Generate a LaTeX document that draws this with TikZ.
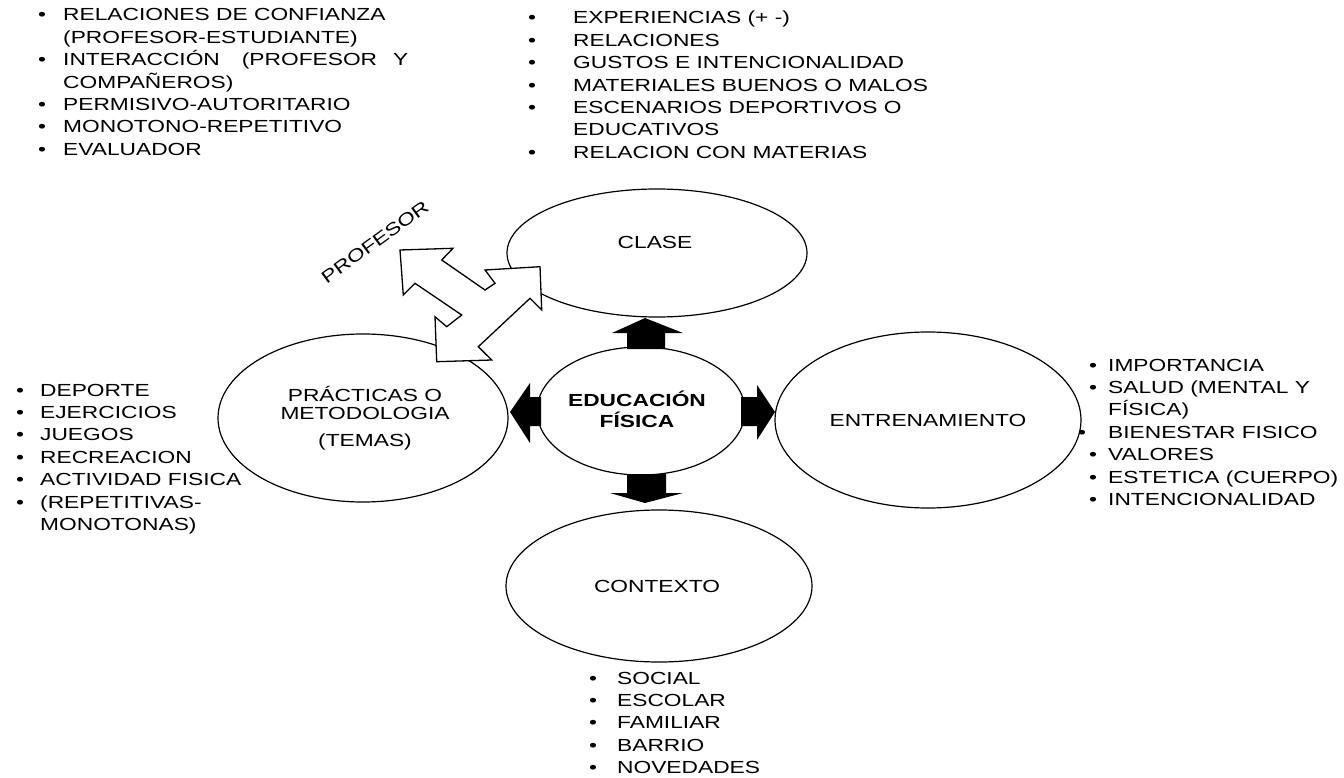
\documentclass[tikz,border=0pt]{standalone}
\usepackage{fontspec}
\setmainfont{Liberation Sans}[FakeStretch=1.3]
\usetikzlibrary{shapes.geometric}
\newcommand{\bl}[1]{\makebox[#1][l]{\textbullet}}
\newcommand{\lsz}{\fontsize{17.5}{22.4}\selectfont}
\begin{document}
\begin{tikzpicture}[x=1pt,y=-1pt,
  ell/.style={draw, ellipse, line width=1.2pt, fill=white, inner sep=0pt},
  lbl/.style={font=\lsz, inner sep=0pt, anchor=base},
  listnode/.style={font=\lsz, inner sep=0pt, anchor=base west, align=left},
  blackarrow/.style={fill=black},
  whitearrow/.style={draw, fill=white, line width=1.3pt, line join=miter}]
\useasboundingbox (0,0) rectangle (1344,778);

% ellipses
\node[ell, minimum width=300pt, minimum height=128pt] (clase) at (657,253) {};
\node[ell, minimum width=208pt, minimum height=128pt] (ef) at (641,411) {};
\node[ell, minimum width=290pt, minimum height=168pt] (prac) at (363,418) {};
\node[ell, minimum width=306pt, minimum height=176pt] (entr) at (928,420) {};
\node[ell, minimum width=306pt, minimum height=152pt] (cont) at (659,586) {};

% labels
\node[lbl] (tclase) at (655,248) {CLASE};
\node[lbl] (tentr) at (928,426) {ENTRENAMIENTO};
\node[lbl] (tcont) at (657,592) {CONTEXTO};
\node[lbl] (tprac1) at (365,401) {PRÁCTICAS O};
\node[lbl] (tprac2) at (365,419) {METODOLOGIA};
\node[lbl] (tprac3) at (365,446) {(TEMAS)};
\node[lbl, font=\lsz\bfseries] (tef1) at (637,406) {EDUCACIÓN};
\node[lbl, font=\lsz\bfseries] (tef2) at (637,427) {FÍSICA};

% black arrows
\fill[blackarrow] (627,349) -- (627,333) -- (612,333) -- (645,318) -- (683,333) -- (665,333) -- (665,349) -- cycle;
\fill[blackarrow] (627,474) -- (627,493) -- (610,493) -- (645,503) -- (683,493) -- (666,493) -- (666,474) -- cycle;
\fill[blackarrow] (541,397) -- (530,397) -- (530,383) -- (510,412) -- (530,443) -- (530,426) -- (541,426) -- cycle;
\fill[blackarrow] (741,397) -- (757,397) -- (757,385) -- (775,412) -- (757,440) -- (757,426) -- (741,426) -- cycle;

% white three-way arrow (PROFESOR)
\draw[whitearrow] (400,250) -- (453,248.3) -- (441.7,260) -- (485,290) -- (495,283.3)
  -- (485,270) -- (540,266.7) -- (541.7,310) -- (530,298.3) -- (478.3,346.7)
  -- (491.7,360) -- (436.7,361.7) -- (435,316.7) -- (446.7,326.7) -- (461.7,315)
  -- (415,283.3) -- (403.3,295) -- cycle;
\node[font=\lsz, inner sep=0pt, rotate=36] (tprof) at (375,242) {PROFESOR};

% lists
\node[listnode] (ltl) at (38,21) {\begin{tabular}[t]{@{}l@{}l@{}}
\bl{25pt} & RELACIONES DE CONFIANZA\\
 & (PROFESOR-ESTUDIANTE)\\
\bl{25pt} & INTERACCIÓN\hspace{22pt}(PROFESOR\hspace{16pt}Y\\
 & COMPAÑEROS)\\
\bl{25pt} & PERMISIVO-AUTORITARIO\\
\bl{25pt} & MONOTONO-REPETITIVO\\
\bl{25pt} & EVALUADOR
\end{tabular}};

\node[listnode] (ltm) at (528,24) {\begin{tabular}[t]{@{}l@{}l@{}}
\bl{45pt} & EXPERIENCIAS (+ -)\\
\bl{45pt} & RELACIONES\\
\bl{45pt} & GUSTOS E INTENCIONALIDAD\\
\bl{45pt} & MATERIALES BUENOS O MALOS\\
\bl{45pt} & ESCENARIOS DEPORTIVOS O\\
 & EDUCATIVOS\\
\bl{45pt} & RELACION CON MATERIAS
\end{tabular}};

\node[listnode] (lr) at (1089,371) {\begin{tabular}[t]{@{}l@{}l@{}}
\bl{19pt} & IMPORTANCIA\\
\bl{19pt} & SALUD (MENTAL Y\\
 & FÍSICA)\\
\makebox[19pt][l]{\hspace*{-11pt}\textbullet} & BIENESTAR FISICO\\
\bl{19pt} & VALORES\\
\bl{19pt} & ESTETICA (CUERPO)\\
\bl{19pt} & INTENCIONALIDAD
\end{tabular}};

\node[listnode] (ll) at (16,396) {\begin{tabular}[t]{@{}l@{}l@{}}
\bl{24pt} & DEPORTE\\
\bl{24pt} & EJERCICIOS\\
\bl{24pt} & JUEGOS\\
\bl{24pt} & RECREACION\\
\bl{24pt} & ACTIVIDAD FISICA\\
\bl{24pt} & (REPETITIVAS-\\
 & MONOTONAS)
\end{tabular}};

\node[listnode] (lb) at (589,684) {\begin{tabular}[t]{@{}l@{}l@{}}
\bl{28pt} & SOCIAL\\
\bl{28pt} & ESCOLAR\\
\bl{28pt} & FAMILIAR\\
\bl{28pt} & BARRIO\\
\bl{28pt} & NOVEDADES
\end{tabular}};
\end{tikzpicture}
\end{document}
